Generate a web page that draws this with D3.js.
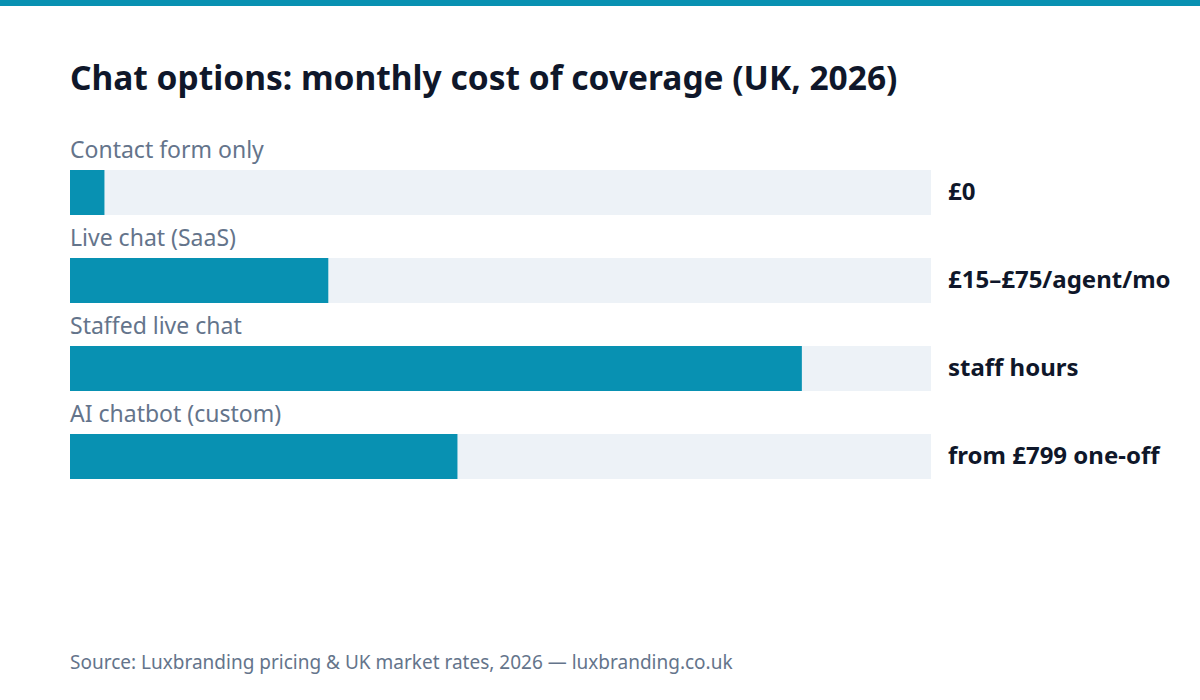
<!DOCTYPE html>
<html><head><meta charset="utf-8">
<script src="https://cdn.jsdelivr.net/npm/d3@7"></script>
<style>body{margin:0;background:#fff}svg{display:block}</style>
</head><body><svg id="chart" width="1200" height="700"></svg>
<script>
const categories = ['Contact form only', 'Live chat (SaaS)', 'Staffed live chat', 'AI chatbot (custom)'];
const shares = [0.04, 0.30, 0.85, 0.45];
const valueLabels = ['£0', '£15–£75/agent/mo', 'staff hours', 'from £799 one-off'];

const svg = d3.select('#chart');
const font = '"Noto Sans", "Open Sans", sans-serif';
const teal = '#0891b2';

svg.append('rect').attr('width', 1200).attr('height', 6).attr('fill', teal);
svg.append('text').attr('x', 70).attr('y', 90).attr('font-family', font)
  .attr('font-size', 33.5).attr('font-weight', 700).attr('fill', '#0f172a')
  .text('Chat options: monthly cost of coverage (UK, 2026)');

const x = d3.scaleLinear().domain([0, 1]).range([70, 931]);
const y = d3.scaleBand().domain(categories).range([126, 478]).paddingInner(0);

const g = svg.selectAll('g.row').data(categories).join('g').attr('class', 'row')
  .attr('transform', d => `translate(0,${y(d)})`);

g.append('text').attr('x', 70).attr('y', 32).attr('font-family', font)
  .attr('font-size', 23).attr('fill', '#64748b').text(d => d);
g.append('rect').attr('x', x(0)).attr('y', 44).attr('height', 45)
  .attr('width', x(1) - x(0)).attr('fill', '#edf2f7');
g.append('rect').attr('x', x(0)).attr('y', 44).attr('height', 45)
  .attr('width', (d, i) => x(shares[i]) - x(0)).attr('fill', teal);
g.append('text').attr('x', 948).attr('y', 74).attr('font-family', font)
  .attr('font-size', 24).attr('font-weight', 700).attr('fill', '#0f172a')
  .text((d, i) => valueLabels[i]);

svg.append('text').attr('x', 70).attr('y', 669).attr('font-family', font)
  .attr('font-size', 19).attr('fill', '#64748b')
  .text('Source: Luxbranding pricing & UK market rates, 2026 — luxbranding.co.uk');
</script></body></html>
